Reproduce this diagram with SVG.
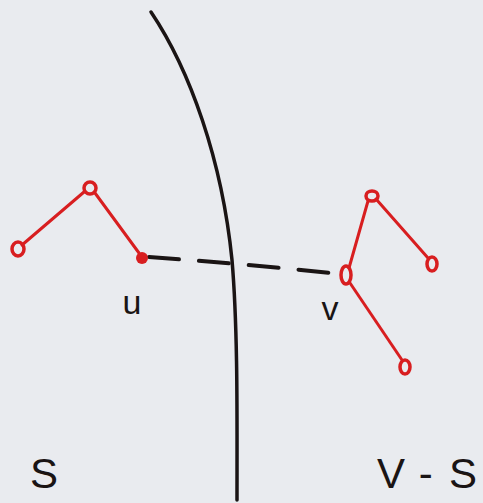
<svg xmlns="http://www.w3.org/2000/svg" width="483" height="503" viewBox="0 0 483 503">
<style>
.edge{stroke:#d81e20;stroke-width:3;fill:none;stroke-linecap:round}
.node{stroke:#d81e20;stroke-width:3.5;fill:none}
.ink{stroke:#1a1414;fill:none;stroke-linecap:round}
.lbl{font-family:"Liberation Sans",sans-serif;fill:#1a1414}
</style>
<rect width="483" height="503" fill="#e9ebef"/>
<g id="cut">
<path class="ink" stroke-width="3.5" d="M151,12 C190,70 222,160 232,260 C238,330 237,420 237,500"/>
</g>
<g id="connectors">
<line class="edge" x1="22" y1="245" x2="84" y2="192"/>
<line class="edge" x1="95" y1="193" x2="139" y2="253"/>
<line class="edge" x1="368" y1="201" x2="349" y2="268"/>
<line class="edge" x1="376" y1="199" x2="428" y2="258"/>
<line class="edge" x1="350" y1="283" x2="402" y2="360"/>
<path class="ink" stroke-width="4" stroke-dasharray="30,20" d="M149,257 Q245,264 340,274"/>
</g>
<g id="n1"><ellipse class="node" cx="18" cy="249" rx="6" ry="7"/></g>
<g id="n2"><ellipse class="node" cx="90" cy="188" rx="6" ry="6"/></g>
<g id="u"><circle cx="142" cy="258" r="6" fill="#d81e20"/><text class="lbl" x="132" y="314" font-size="34" text-anchor="middle">u</text></g>
<g id="n4"><ellipse class="node" cx="372" cy="196" rx="6" ry="5"/></g>
<g id="n5"><ellipse class="node" cx="432" cy="264" rx="5" ry="7" fill="#d81e20" fill-opacity="0.5"/></g>
<g id="v"><ellipse class="node" cx="346" cy="275" rx="5" ry="9"/><text class="lbl" x="330" y="320" font-size="34" text-anchor="middle">v</text></g>
<g id="n7"><ellipse class="node" cx="405" cy="367" rx="5" ry="7" fill="#d81e20" fill-opacity="0.5"/></g>
<text class="lbl" x="44" y="488" font-size="42" text-anchor="middle">S</text>
<text class="lbl" x="377" y="488" font-size="42" textLength="100" lengthAdjust="spacing">V-S</text>
</svg>
